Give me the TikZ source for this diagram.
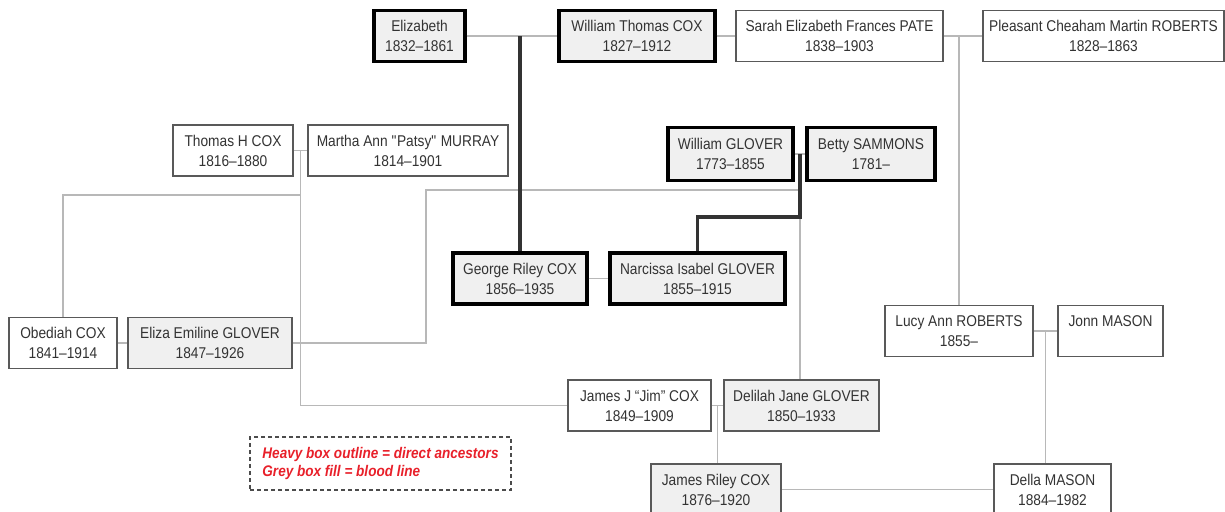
\documentclass[tikz,border=0pt]{standalone}
\usepackage{fontspec}
\setmainfont{Liberation Sans}[FakeStretch=0.88]
\usetikzlibrary{positioning, calc}
\definecolor{boxgrey}{HTML}{F0F0F0}
\definecolor{keyred}{HTML}{E8202A}

\begin{document}
\begin{tikzpicture}[x=0.5pt, y=-0.5pt,
person/.style={rectangle, align=center, draw=black!65, line width=0.8pt, fill=white,
    text=black!80, inner sep=0pt, font=\fontsize{7.8}{10}\selectfont, minimum height=25.5pt},
person-blood/.style={person, fill=boxgrey},
person-direct/.style={person-blood, draw=black, line width=1.6pt},
line/.style={draw, black!28, line width=0.8pt},
line-direct/.style={draw, black!80, line width=1.6pt},
key/.style={rectangle, draw=black!70, dash pattern=on 2pt off 1.5pt, line width=0.8pt, align=left,
    text=keyred, font=\fontsize{7.7}{9.2}\selectfont\bfseries\itshape, minimum width=130.5pt,
    minimum height=26.5pt}
]
\useasboundingbox (0,0) rectangle (1225,512);

% top row
\node [person-direct, minimum width=45.5pt] (elizabeth) at (419.5,36) {Elizabeth\\1832--1861};
\node [person-direct, minimum width=78pt] (wtcox) at (637,36) {William Thomas COX\\1827--1912};
\node [person, minimum width=103.5pt] (pate) at (839.5,36) {Sarah Elizabeth Frances PATE\\1838--1903};
\node [person, minimum width=120.5pt] (proberts) at (1103.5,36) {Pleasant Cheaham Martin ROBERTS\\1828--1863};

% second row
\node [person, minimum width=60pt] (thcox) at (233,150.5) {Thomas H COX\\1816--1880};
\node [person, minimum width=100pt] (murray) at (408,150.5) {Martha Ann \textquotedbl Patsy\textquotedbl{} MURRAY\\1814--1901};
\node [person-direct, minimum width=62.5pt, minimum height=26.5pt] (wglover) at (730.5,154) {William GLOVER\\1773--1855};
\node [person-direct, minimum width=64pt, minimum height=26.5pt] (sammons) at (871,154) {Betty SAMMONS\\1781--};

% third row
\node [person-direct, minimum width=67pt] (grcox) at (520,278.5) {George Riley COX\\1856--1935};
\node [person-direct, minimum width=87.5pt] (narcissa) at (697.5,278.5) {Narcissa Isabel GLOVER\\1855--1915};
\node [person, minimum width=74pt] (lucy) at (959,331) {Lucy Ann ROBERTS\\1855--};
\node [person, minimum width=52.5pt] (jmason) at (1110.5,331) {Jonn MASON\\\phantom{0}};
\node [person, minimum width=54pt] (obediah) at (63,343) {Obediah COX\\1841--1914};
\node [person-blood, minimum width=82pt] (eliza) at (210,343) {Eliza Emiline GLOVER\\1847--1926};

% bottom rows
\node [person, minimum width=71.5pt] (jimcox) at (639.5,405.5) {James J \textquotedblleft Jim\textquotedblright{} COX\\1849--1909};
\node [person-blood, minimum width=77.5pt] (delilah) at (801.5,405.5) {Delilah Jane GLOVER\\1850--1933};
\node [person-blood, minimum width=65pt] (jrcox) at (716,489.5) {James Riley COX\\1876--1920};
\node [person, minimum width=58.5pt] (della) at (1052.5,489.5) {Della MASON\\1884--1982};

\node [key] (legend) at (380.5,463.5) {Heavy box outline = direct ancestors\\Grey box fill = blood line};

% couples
\coordinate (tm) at ($(thcox.east)!0.5!(murray.west)$);
\coordinate (gs) at ($(wglover.east)!0.5!(sammons.west)$);
\coordinate (lm) at ($(lucy.east)!0.5!(jmason.west)$);
\coordinate (jd) at ($(jimcox.east)!0.5!(delilah.west)$);

\draw [line] (elizabeth) -- (wtcox);
\draw [line] (wtcox) -- (pate);
\draw [line] (pate) -- (proberts);
\draw [line] (lucy.north) -- (lucy.north |- pate.east);
\draw [line] (thcox) -- (murray);
\draw [line] (tm) |- (jimcox.west);
\draw [line] (obediah.north) |- ($(tm)+(0,44.5)$);
\draw [line] (wglover) -- (sammons);
\draw [line] (gs) -- (gs |- delilah.north);
\draw [line] (eliza.east) -- ++(133,0) |- ($(gs)+(0,36)$);
\draw [line] (grcox) -- (narcissa);
\draw [line] (lucy) -- (jmason);
\draw [line] (lm) -- (lm |- della.north);
\draw [line] (obediah) -- (eliza);
\draw [line] (jimcox) -- (delilah);
\draw [line] (jd) -- (jd |- jrcox.north);
\draw [line] (jrcox) -- (della);

% direct line
\draw [line-direct] (grcox.north) -- (grcox.north |- elizabeth.east);
\draw [line-direct] (gs) -- ++(0,63) -| (narcissa.north);
\end{tikzpicture}
\end{document}
